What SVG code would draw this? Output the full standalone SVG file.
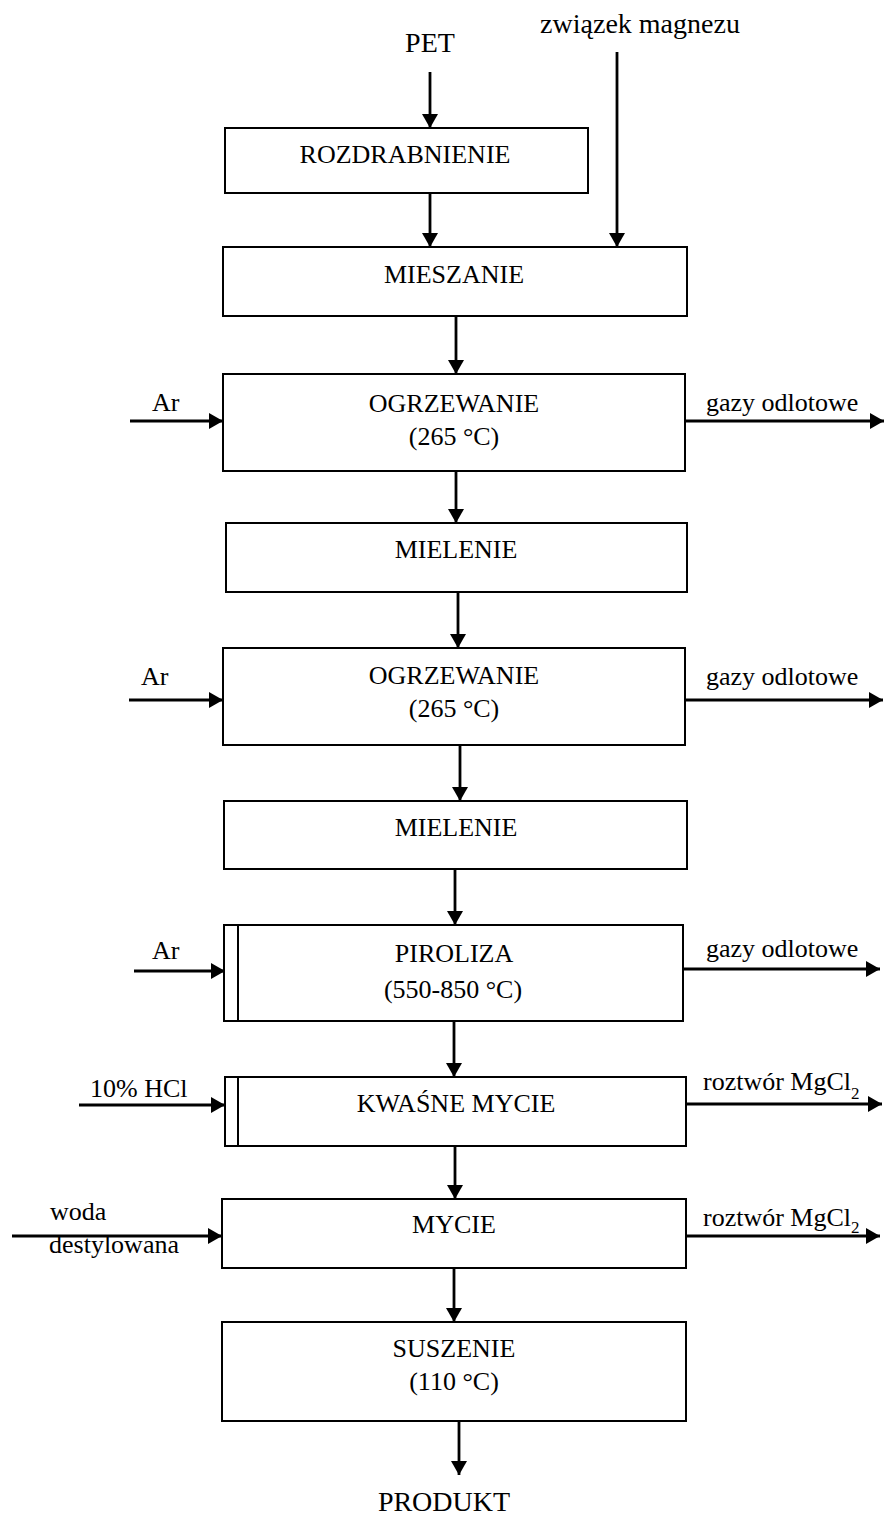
<svg xmlns="http://www.w3.org/2000/svg" width="885" height="1517" viewBox="0 0 885 1517">
<style>
text{font-family:"Liberation Serif","Times New Roman",serif;fill:#000;}
.b{font-size:26px;text-anchor:middle;}
.l{font-size:26px;}
.big{font-size:28px;text-anchor:middle;}
.sub{font-size:17px;}
rect{fill:#fff;stroke:#000;stroke-width:2;}
.inner{stroke:#000;stroke-width:2;}
.c line{stroke:#000;stroke-width:2.8;}
</style>
<defs>
<marker id="ah" markerWidth="14" markerHeight="16" refX="14" refY="8" orient="auto" markerUnits="userSpaceOnUse" viewBox="0 0 14 16">
<path d="M0,0 L14,8 L0,16 z" fill="#000"/>
</marker>
</defs>
<g id="n1"><rect x="225" y="128" width="363" height="65"/><text class="b" x="405" y="163">ROZDRABNIENIE</text></g>
<g id="n2"><rect x="223" y="247" width="464" height="69"/><text class="b" x="454" y="283">MIESZANIE</text></g>
<g id="n3"><rect x="223" y="374" width="462" height="97"/><text class="b" x="454" y="412">OGRZEWANIE</text><text class="b" x="454" y="445">(265 °C)</text></g>
<g id="n4"><rect x="226" y="523" width="461" height="69"/><text class="b" x="456" y="558">MIELENIE</text></g>
<g id="n5"><rect x="223" y="648" width="462" height="97"/><text class="b" x="454" y="684">OGRZEWANIE</text><text class="b" x="454" y="717">(265 °C)</text></g>
<g id="n6"><rect x="224" y="801" width="463" height="68"/><text class="b" x="456" y="836">MIELENIE</text></g>
<g id="n7"><rect x="224" y="925" width="459" height="96"/><line class="inner" x1="238" y1="925" x2="238" y2="1021"/><text class="b" x="454" y="962">PIROLIZA</text><text class="b" x="453" y="998">(550-850 °C)</text></g>
<g id="n8"><rect x="225" y="1077" width="461" height="69"/><line class="inner" x1="238" y1="1077" x2="238" y2="1146"/><text class="b" x="456" y="1112">KWAŚNE MYCIE</text></g>
<g id="n9"><rect x="222" y="1199" width="464" height="69"/><text class="b" x="454" y="1233">MYCIE</text></g>
<g id="n10"><rect x="222" y="1322" width="464" height="99"/><text class="b" x="454" y="1357">SUSZENIE</text><text class="b" x="454" y="1390">(110 °C)</text></g>
<g id="in-pet"><text class="big" x="430" y="52">PET</text></g>
<g id="in-mg"><text class="big" x="640" y="33">związek magnezu</text></g>
<g id="out-produkt"><text class="big" x="444" y="1511">PRODUKT</text></g>
<g class="c">
<line x1="430" y1="72" x2="430" y2="128" marker-end="url(#ah)"/>
<line x1="430" y1="193" x2="430" y2="247" marker-end="url(#ah)"/>
<line x1="617" y1="52" x2="617" y2="247" marker-end="url(#ah)"/>
<line x1="456" y1="316" x2="456" y2="374" marker-end="url(#ah)"/>
<line x1="456" y1="471" x2="456" y2="523" marker-end="url(#ah)"/>
<line x1="458" y1="592" x2="458" y2="648" marker-end="url(#ah)"/>
<line x1="460" y1="745" x2="460" y2="801" marker-end="url(#ah)"/>
<line x1="455" y1="869" x2="455" y2="925" marker-end="url(#ah)"/>
<line x1="454" y1="1021" x2="454" y2="1077" marker-end="url(#ah)"/>
<line x1="455" y1="1146" x2="455" y2="1199" marker-end="url(#ah)"/>
<line x1="454" y1="1268" x2="454" y2="1322" marker-end="url(#ah)"/>
<line x1="459" y1="1421" x2="459" y2="1475" marker-end="url(#ah)"/>
<line x1="130" y1="421" x2="223" y2="421" marker-end="url(#ah)"/>
<line x1="685" y1="421" x2="884" y2="421" marker-end="url(#ah)"/>
<line x1="129" y1="700" x2="223" y2="700" marker-end="url(#ah)"/>
<line x1="685" y1="700" x2="883" y2="700" marker-end="url(#ah)"/>
<line x1="134" y1="971" x2="225" y2="971" marker-end="url(#ah)"/>
<line x1="683" y1="969" x2="880" y2="969" marker-end="url(#ah)"/>
<line x1="79" y1="1105" x2="225" y2="1105" marker-end="url(#ah)"/>
<line x1="686" y1="1104" x2="882" y2="1104" marker-end="url(#ah)"/>
<line x1="12" y1="1236" x2="222" y2="1236" marker-end="url(#ah)"/>
<line x1="686" y1="1236" x2="880" y2="1236" marker-end="url(#ah)"/>
</g>
<g id="labels">
<text class="l" x="152" y="411">Ar</text>
<text class="l" x="706" y="411">gazy odlotowe</text>
<text class="l" x="141" y="685">Ar</text>
<text class="l" x="706" y="685">gazy odlotowe</text>
<text class="l" x="152" y="959">Ar</text>
<text class="l" x="706" y="957">gazy odlotowe</text>
<text class="l" x="90" y="1097">10% HCl</text>
<text class="l" x="703" y="1090">roztwór MgCl<tspan class="sub" dy="9">2</tspan></text>
<text class="l" x="50" y="1220">woda</text>
<text class="l" x="49" y="1253">destylowana</text>
<text class="l" x="703" y="1226">roztwór MgCl<tspan class="sub" dy="7">2</tspan></text>
</g>
</svg>
